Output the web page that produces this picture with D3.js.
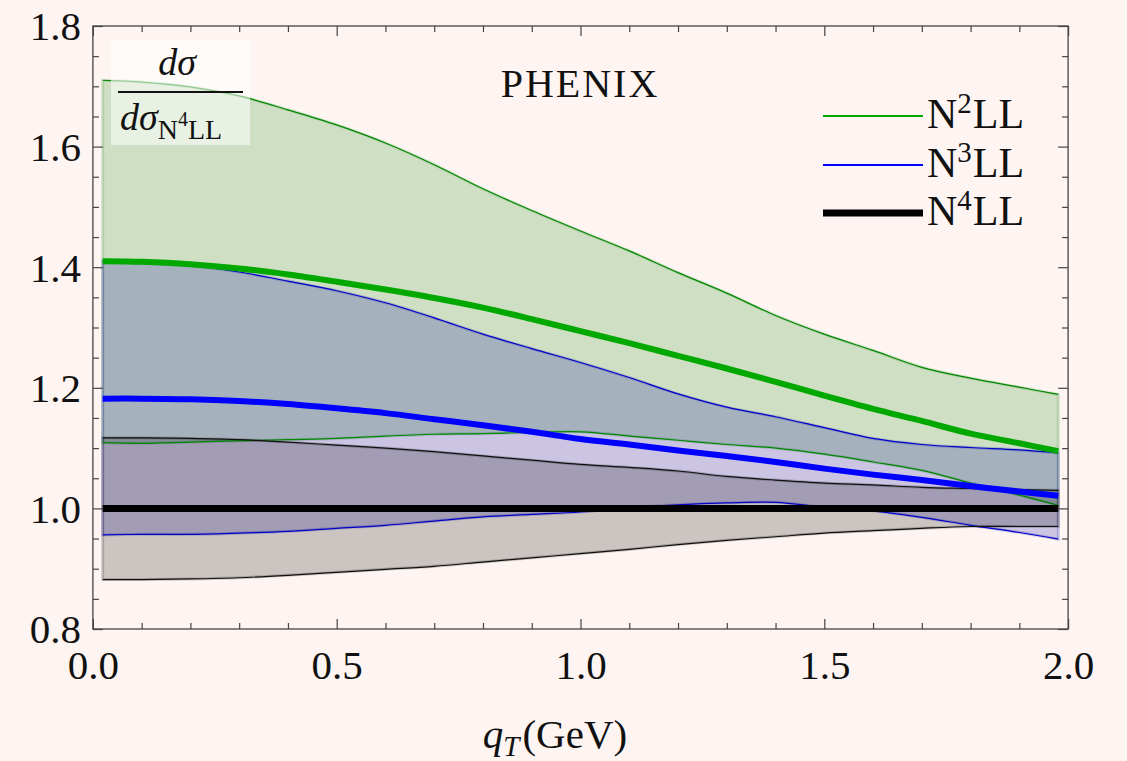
<!DOCTYPE html>
<html>
<head>
<meta charset="utf-8">
<script src="https://cdn.jsdelivr.net/npm/d3@7"></script>
<style>
  html, body { margin: 0; padding: 0; background: #fef5f2; }
  svg { display: block; }
  text { font-family: "Liberation Serif", "DejaVu Serif", serif; fill: #111; }
</style>
</head>
<body>
<svg id="chart" width="1127" height="761"></svg>
<script>
// ---------------- data ----------------
const qT = [0.02,0.1,0.2,0.3,0.4,0.5,0.6,0.7,0.8,0.9,1.0,1.1,1.2,1.3,1.4,1.5,1.6,1.7,1.8,1.9,1.98];

const n2llCentral = [1.410,1.409,1.405,1.398,1.388,1.376,1.363,1.349,1.333,1.314,1.294,1.274,1.253,1.232,1.210,1.187,1.165,1.145,1.124,1.108,1.095];
const n2llUpper   = [1.710,1.707,1.699,1.684,1.661,1.636,1.606,1.570,1.530,1.494,1.460,1.427,1.391,1.357,1.320,1.289,1.262,1.234,1.216,1.201,1.189];
const n2llLower   = [1.109,1.108,1.110,1.112,1.114,1.116,1.120,1.123,1.124,1.126,1.127,1.120,1.113,1.106,1.100,1.090,1.077,1.063,1.042,1.022,1.005];

const n3llCentral = [1.182,1.182,1.181,1.178,1.173,1.166,1.158,1.148,1.138,1.127,1.115,1.106,1.096,1.087,1.077,1.066,1.056,1.047,1.037,1.028,1.021];
const n3llUpper   = [1.410,1.407,1.403,1.392,1.377,1.361,1.341,1.316,1.289,1.265,1.242,1.217,1.190,1.168,1.152,1.134,1.116,1.106,1.101,1.097,1.092];
const n3llLower   = [0.956,0.957,0.957,0.959,0.962,0.967,0.972,0.979,0.986,0.990,0.994,1.001,1.006,1.009,1.010,1.002,0.996,0.985,0.972,0.960,0.949];

const n4llCentral = [1,1,1,1,1,1,1,1,1,1,1,1,1,1,1,1,1,1,1,1,1];
const n4llUpper   = [1.117,1.117,1.116,1.114,1.110,1.105,1.100,1.094,1.087,1.080,1.073,1.068,1.062,1.053,1.047,1.042,1.039,1.035,1.033,1.031,1.030];
const n4llLower   = [0.882,0.882,0.883,0.885,0.889,0.894,0.899,0.904,0.911,0.918,0.925,0.932,0.940,0.947,0.953,0.959,0.963,0.967,0.970,0.970,0.970];

const xMajorTicks = [0.0, 0.5, 1.0, 1.5, 2.0];
const yMajorTicks = [0.8, 1.0, 1.2, 1.4, 1.6, 1.8];
const legendLabels = ["2", "3", "4"];
const plotTitle = "PHENIX";

// ---------------- layout ----------------
const svg = d3.select("#chart");
const L = 92.9, R = 1068.1, T = 26, B = 629;
const x = d3.scaleLinear().domain([0, 2]).range([L, R]);
const y = d3.scaleLinear().domain([0.8, 1.8]).range([B, T]);

const series = [
  { c: n2llCentral, u: n2llUpper, l: n2llLower, fill: "rgb(20,135,15)", line: "rgb(0,168,0)", thin: "rgb(0,135,0)", lw: 6 },
  { c: n3llCentral, u: n3llUpper, l: n3llLower, fill: "rgb(0,0,170)", line: "rgb(0,0,255)", thin: "rgb(0,0,200)", lw: 6 },
  { c: n4llCentral, u: n4llUpper, l: n4llLower, fill: "rgb(0,0,0)", line: "#000", thin: "#111", lw: 7 }
];

const curve = d3.curveCatmullRom.alpha(0.5);

// bands
series.forEach(s => {
  const area = d3.area()
    .x((d, i) => x(qT[i]))
    .y0((d, i) => y(s.l[i]))
    .y1((d, i) => y(s.u[i]))
    .curve(curve);
  svg.append("path")
    .attr("d", area(qT))
    .attr("fill", s.fill)
    .attr("fill-opacity", 0.2)
    .attr("stroke", s.fill)
    .attr("stroke-opacity", 0.18)
    .attr("stroke-width", 3);
});

// band boundary lines
series.forEach(s => {
  [s.u, s.l].forEach(arr => {
    const ln = d3.line().x((d, i) => x(qT[i])).y((d, i) => y(arr[i])).curve(curve);
    svg.append("path")
      .attr("d", ln(qT))
      .attr("fill", "none")
      .attr("stroke", s.thin)
      .attr("stroke-width", 1.2);
  });
});

// central lines
series.forEach(s => {
  const ln = d3.line().x((d, i) => x(qT[i])).y((d, i) => y(s.c[i])).curve(curve);
  svg.append("path")
    .attr("d", ln(qT))
    .attr("fill", "none")
    .attr("stroke", s.line)
    .attr("stroke-width", s.lw);
});

// ---------------- axes ----------------
const axisColor = "#444";
const xMinor = d3.range(0, 2.0001, 0.1).filter(v => Math.abs(v * 2 - Math.round(v * 2)) > 1e-6);
const yMinor = d3.range(0.8, 1.8001, 0.05).filter(v => Math.abs(v * 5 - Math.round(v * 5)) > 1e-6);

function styleAxis(g) {
  g.select(".domain").remove();
  g.selectAll(".tick line").attr("stroke", axisColor).attr("stroke-width", 1.2);
}

// bottom
svg.append("g").attr("transform", `translate(0,${B})`)
  .call(d3.axisBottom(x).tickValues(xMinor).tickSize(-6).tickFormat(""))
  .call(styleAxis);
const gxb = svg.append("g").attr("transform", `translate(0,${B})`)
  .call(d3.axisBottom(x).tickValues(xMajorTicks).tickSize(-10).tickPadding(0).tickFormat(d3.format(".1f")))
  .call(styleAxis);
gxb.selectAll(".tick text").attr("y", 50).attr("dy", 0)
  .style("font-family", "'Liberation Serif', serif").style("font-size", "41px").attr("fill", "#111");

// top
svg.append("g").attr("transform", `translate(0,${T})`)
  .call(d3.axisTop(x).tickValues(xMinor).tickSize(-6).tickFormat(""))
  .call(styleAxis);
svg.append("g").attr("transform", `translate(0,${T})`)
  .call(d3.axisTop(x).tickValues(xMajorTicks).tickSize(-10).tickFormat(""))
  .call(styleAxis);

// left
svg.append("g").attr("transform", `translate(${L},0)`)
  .call(d3.axisLeft(y).tickValues(yMinor).tickSize(-6).tickFormat(""))
  .call(styleAxis);
const gyl = svg.append("g").attr("transform", `translate(${L},0)`)
  .call(d3.axisLeft(y).tickValues(yMajorTicks).tickSize(-10).tickFormat(d3.format(".1f")))
  .call(styleAxis);
gyl.selectAll(".tick text").attr("x", -12).attr("dy", "0.34em")
  .style("font-family", "'Liberation Serif', serif").style("font-size", "41px").attr("fill", "#111");

// right
svg.append("g").attr("transform", `translate(${R},0)`)
  .call(d3.axisRight(y).tickValues(yMinor).tickSize(-6).tickFormat(""))
  .call(styleAxis);
svg.append("g").attr("transform", `translate(${R},0)`)
  .call(d3.axisRight(y).tickValues(yMajorTicks).tickSize(-10).tickFormat(""))
  .call(styleAxis);

// frame
svg.append("rect")
  .attr("x", L).attr("y", T).attr("width", R - L).attr("height", B - T)
  .attr("fill", "none").attr("stroke", axisColor).attr("stroke-width", 1.3);

// x axis title
const xt = svg.append("text").attr("x", 555).attr("y", 748).attr("text-anchor", "middle").style("font-size", "41px");
xt.append("tspan").text("q").style("font-style", "italic");
xt.append("tspan").text("T").style("font-style", "italic").style("font-size", "29px").attr("dy", 8);
xt.append("tspan").text("(GeV)").attr("dy", -8).attr("dx", 3);

// title
svg.append("text").attr("x", 580).attr("y", 97).attr("text-anchor", "middle")
  .style("font-size", "40px").style("letter-spacing", "2px").text(plotTitle);

// y-label box (fraction)
svg.append("rect").attr("x", 111).attr("y", 40).attr("width", 139).attr("height", 105)
  .attr("fill", "#ffffff").attr("fill-opacity", 0.55);
svg.append("text").attr("x", 177).attr("y", 75).attr("text-anchor", "middle")
  .style("font-size", "38px").style("font-style", "italic").text("dσ");
svg.append("line").attr("x1", 118).attr("x2", 243).attr("y1", 92).attr("y2", 92)
  .attr("stroke", "#111").attr("stroke-width", 1.8);
const den = svg.append("text").attr("x", 120).attr("y", 130).style("font-size", "38px");
den.append("tspan").text("dσ").style("font-style", "italic");
den.append("tspan").text("N").style("font-size", "28px").attr("dy", 9);
den.append("tspan").text("4").style("font-size", "20px").attr("dy", -13);
den.append("tspan").text("LL").style("font-size", "28px").attr("dy", 13);

// legend
const legY = [116, 165, 213];
series.forEach((s, i) => {
  svg.append("line").attr("x1", 823).attr("x2", 923).attr("y1", legY[i]).attr("y2", legY[i])
    .attr("stroke", i === 2 ? "#000" : s.line).attr("stroke-width", i === 2 ? 7 : 1.8);
  const t = svg.append("text").attr("x", 927).attr("y", legY[i] + 12).style("font-size", "42px");
  t.append("tspan").text("N");
  t.append("tspan").text(legendLabels[i]).style("font-size", "29px").attr("dy", -15);
  t.append("tspan").text("LL").attr("dy", 15).attr("dx", 1);
});
</script>
</body>
</html>
